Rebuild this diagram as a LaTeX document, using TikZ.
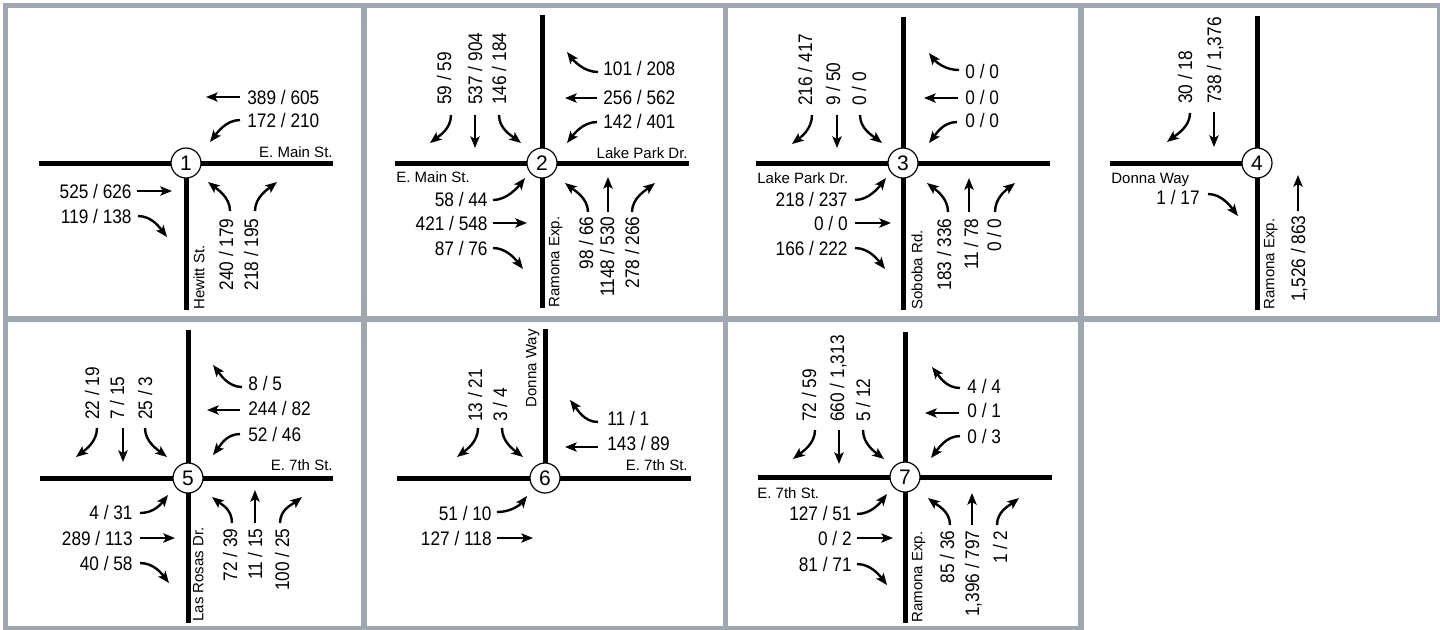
\documentclass[tikz,border=0pt]{standalone}
\usepackage{fontspec}
\setmainfont{Liberation Sans}
\newfontfamily\numfam{Liberation Sans}[FakeStretch=0.88]
\newcommand\mynumfont{\numfam\fontsize{9.8}{11}\selectfont}
\newcommand\mystreetfont{\fontsize{7.5}{9}\selectfont}
\newcommand\mycircfont{\fontsize{10.5}{12}\selectfont}
\usetikzlibrary{arrows.meta}
\definecolor{framegray}{RGB}{161,167,175}
\tikzset{
  road/.style={line width=2.5pt},
  mv/.style={line width=1.2pt, -{Stealth[length=5.8pt,width=4.6pt,inset=1.3pt]}},
  num/.style={font=\mynumfont, inner sep=0pt, text height=7pt, text depth=0pt},
  vnum/.style={num, rotate=90},
  street/.style={font=\mystreetfont, inner sep=0pt, text height=5.4pt, text depth=0pt},
  vstreet/.style={street, rotate=90},
  junction/.style={circle, draw, line width=0.6pt, fill=white, minimum size=15pt, inner sep=0pt, font=\mycircfont},
  frameline/.style={line width=2.6pt, draw=framegray},
}
\begin{document}
\begin{tikzpicture}[x=0.5pt,y=-0.5pt]
\useasboundingbox (0,0) rectangle (1440,629);
% frame
\draw[frameline] (5.5,3) -- (5.5,629);
\draw[frameline] (3,5.5) -- (1440,5.5);
\draw[frameline] (364,3) -- (364,629);
\draw[frameline] (725.5,3) -- (725.5,629);
\draw[frameline] (1081,3) -- (1081,629);
\draw[frameline] (1439.5,3) -- (1439.5,320);
\draw[frameline] (3,319) -- (1440,319);
\draw[frameline] (3,628.5) -- (1083.5,628.5);

% ---------- Panel 1 ----------
\begin{scope}[shift={(186,163)}]
\draw[road] (-147,0) -- (147,0);
\draw[road] (0,0) -- (0,147);
\node[junction] (j1) at (0,0) {1};
\node[street, anchor=east] (s1a) at (147,-11) {E. Main St.};
\node[vstreet, anchor=west] (s1b) at (13,147) {Hewitt St.};
\node[num, anchor=west] (n1et) at (61,-66) {389 / 605};
\draw[mv] (54,-66) -- (20,-66);
\node[num, anchor=west] (n1el) at (61,-43) {172 / 210};
\draw[mv] (54,-43) .. controls +(-14,0) and +(7,-9) .. (24,-21);
\node[num, anchor=east] (n1wt) at (-54,28) {525 / 626};
\draw[mv] (-49,28) -- (-14,28);
\node[num, anchor=east] (n1wr) at (-54,53) {119 / 138};
\draw[mv] (-48,53) .. controls +(14,0) and +(-7,-9) .. (-19,74);
\node[vnum, anchor=east] (n1sl) at (40,55) {240 / 179};
\draw[mv] (44,48) .. controls +(0,-14) and +(9,7) .. (22,19);
\node[vnum, anchor=east] (n1sr) at (65,55) {218 / 195};
\draw[mv] (69,48) .. controls +(0,-14) and +(-9,7) .. (91,19);
\end{scope}

% ---------- Panel 2 ----------
\begin{scope}[shift={(542,163)}]
\draw[road] (-147,0) -- (147,0);
\draw[road] (0,-148) -- (0,145);
\node[junction] (j2) at (0,0) {2};
\node[street, anchor=east] (s2a) at (146,-10) {Lake Park Dr.};
\node[street, anchor=west] (s2b) at (-146,14) {E. Main St.};
\node[vstreet, anchor=west] (s2c) at (12,145) {Ramona Exp.};
\node[vnum, anchor=west] (n2nl) at (-98,-58) {59 / 59};
\draw[mv] (-91,-48) .. controls +(0,14) and +(9,-7) .. (-112,-20);
\node[vnum, anchor=west] (n2nt) at (-67,-58) {537 / 904};
\draw[mv] (-67,-48) -- (-67,-15);
\node[vnum, anchor=west] (n2nr) at (-43,-58) {146 / 184};
\draw[mv] (-43,-48) .. controls +(0,14) and +(-9,-7) .. (-21,-20);
\node[num, anchor=west] (n2eu) at (61,-95) {101 / 208};
\draw[mv] (56,-91) .. controls +(-14,0) and +(7,9) .. (25,-111);
\node[num, anchor=west] (n2et) at (61,-66) {256 / 562};
\draw[mv] (55,-65) -- (23,-65);
\node[num, anchor=west] (n2el) at (61,-42) {142 / 401};
\draw[mv] (55,-41) .. controls +(-14,0) and +(7,-9) .. (25,-20);
\node[num, anchor=east] (n2wl) at (-54,36) {58 / 44};
\draw[mv] (-49,37) .. controls +(14,0) and +(-7,9) .. (-17,15);
\node[num, anchor=east] (n2wt) at (-54,60) {421 / 548};
\draw[mv] (-49,60) -- (-15,60);
\node[num, anchor=east] (n2wr) at (-54,85) {87 / 76};
\draw[mv] (-49,85) .. controls +(14,0) and +(-7,-9) .. (-19,106);
\node[vnum, anchor=east] (n2sl) at (44,53) {98 / 66};
\draw[mv] (46,49) .. controls +(0,-14) and +(9,7) .. (23,20);
\node[vnum, anchor=east] (n2st) at (65,53) {1148 / 530};
\draw[mv] (66,49) -- (66,14);
\node[vnum, anchor=east] (n2sr) at (90,53) {278 / 266};
\draw[mv] (90,49) .. controls +(0,-14) and +(-9,7) .. (113,20);
\end{scope}

% ---------- Panel 3 ----------
\begin{scope}[shift={(903,163)}]
\draw[road] (-147,0) -- (147,0);
\draw[road] (0,-146) -- (0,147);
\node[junction] (j3) at (0,0) {3};
\node[street, anchor=west] (s3a) at (-146,15) {Lake Park Dr.};
\node[vstreet, anchor=west] (s3b) at (14,147) {Soboba Rd.};
\node[vnum, anchor=west] (n3nl) at (-98,-57) {216 / 417};
\draw[mv] (-91,-48) .. controls +(0,14) and +(9,-7) .. (-111,-19);
\node[vnum, anchor=west] (n3nt) at (-70,-57) {9 / 50};
\draw[mv] (-66,-48) -- (-66,-15);
\node[vnum, anchor=west] (n3nr) at (-44,-57) {0 / 0};
\draw[mv] (-43,-48) .. controls +(0,14) and +(-9,-7) .. (-21,-20);
\node[num, anchor=west] (n3eu) at (62,-92) {0 / 0};
\draw[mv] (56,-93) .. controls +(-14,0) and +(7,9) .. (26,-110);
\node[num, anchor=west] (n3et) at (62,-66) {0 / 0};
\draw[mv] (55,-65) -- (21,-65);
\node[num, anchor=west] (n3el) at (62,-43) {0 / 0};
\draw[mv] (54,-41) .. controls +(-14,0) and +(7,-9) .. (26,-20);
\node[num, anchor=east] (n3wl) at (-55,36) {218 / 237};
\draw[mv] (-48,37) .. controls +(14,0) and +(-7,9) .. (-17,15);
\node[num, anchor=east] (n3wt) at (-55,60) {0 / 0};
\draw[mv] (-48,60) -- (-12,60);
\node[num, anchor=east] (n3wr) at (-55,85) {166 / 222};
\draw[mv] (-48,85) .. controls +(14,0) and +(-7,-9) .. (-18,106);
\node[vnum, anchor=east] (n3sl) at (41,55) {183 / 336};
\draw[mv] (45,49) .. controls +(0,-14) and +(9,7) .. (24,20);
\node[vnum, anchor=east] (n3st) at (68,55) {11 / 78};
\draw[mv] (66,49) -- (66,15);
\node[vnum, anchor=east] (n3sr) at (91,55) {0 / 0};
\draw[mv] (92,49) .. controls +(0,-14) and +(-9,7) .. (112,20);
\end{scope}

% ---------- Panel 4 ----------
\begin{scope}[shift={(1257,163)}]
\draw[road] (-147,0) -- (0,0);
\draw[road] (0,-147) -- (0,147);
\node[junction] (j4) at (0,0) {4};
\node[street, anchor=west] (s4a) at (-146,15) {Donna Way};
\node[vstreet, anchor=west] (s4b) at (12,147) {Ramona Exp.};
\node[vnum, anchor=west] (n4nl) at (-72,-59) {30 / 18};
\draw[mv] (-67,-50) .. controls +(0,14) and +(9,-7) .. (-90,-21);
\node[vnum, anchor=west] (n4nt) at (-43,-59) {738 / 1,376};
\draw[mv] (-43,-51) -- (-43,-16);
\node[num, anchor=east] (n4wr) at (-57,34) {1 / 17};
\draw[mv] (-49,31) .. controls +(14,0) and +(-7,-9) .. (-19,53);
\node[vnum, anchor=east] (n4st) at (41,52) {1,526 / 863};
\draw[mv] (41,48) -- (41,12);
\end{scope}

% ---------- Panel 5 ----------
\begin{scope}[shift={(188,478)}]
\draw[road] (-148,0) -- (145,0);
\draw[road] (0,-148) -- (0,145);
\node[junction] (j5) at (0,0) {5};
\node[street, anchor=east] (s5a) at (145,-13) {E. 7th St.};
\node[vstreet, anchor=west] (s5b) at (10,144) {Las Rosas Dr.};
\node[vnum, anchor=west] (n5nl) at (-96,-58) {22 / 19};
\draw[mv] (-91,-50) .. controls +(0,14) and +(9,-7) .. (-112,-21);
\node[vnum, anchor=west] (n5nt) at (-71,-58) {7 / 15};
\draw[mv] (-65,-50) -- (-65,-16);
\node[vnum, anchor=west] (n5nr) at (-43,-58) {25 / 3};
\draw[mv] (-43,-50) .. controls +(0,14) and +(-9,-7) .. (-21,-21);
\node[num, anchor=west] (n5eu) at (60,-95) {8 / 5};
\draw[mv] (54,-91) .. controls +(-14,0) and +(7,9) .. (25,-113);
\node[num, anchor=west] (n5et) at (60,-70) {244 / 82};
\draw[mv] (52,-68) -- (19,-68);
\node[num, anchor=west] (n5el) at (60,-44) {52 / 46};
\draw[mv] (52,-44) .. controls +(-14,0) and +(7,-9) .. (25,-23);
\node[num, anchor=east] (n5wl) at (-55,34) {4 / 31};
\draw[mv] (-48,35) .. controls +(14,0) and +(-7,9) .. (-20,17);
\node[num, anchor=east] (n5wt) at (-55,60) {289 / 113};
\draw[mv] (-48,60) -- (-13,60);
\node[num, anchor=east] (n5wr) at (-55,85) {40 / 58};
\draw[mv] (-48,85) .. controls +(14,0) and +(-7,-9) .. (-19,105);
\node[vnum, anchor=east] (n5sl) at (42,50) {72 / 39};
\draw[mv] (44,45) .. controls +(0,-14) and +(9,7) .. (24,19);
\node[vnum, anchor=east] (n5st) at (67,50) {11 / 15};
\draw[mv] (67,45) -- (67,12);
\node[vnum, anchor=east] (n5sr) at (94,50) {100 / 25};
\draw[mv] (92,45) .. controls +(0,-14) and +(-9,7) .. (114,19);
\end{scope}

% ---------- Panel 6 ----------
\begin{scope}[shift={(545,478)}]
\draw[road] (-148,0) -- (146,0);
\draw[road] (0,-149) -- (0,0);
\node[junction] (j6) at (0,0) {6};
\node[vstreet, anchor=east] (s6a) at (-14,-149) {Donna Way};
\node[street, anchor=east] (s6b) at (143,-13) {E. 7th St.};
\node[vnum, anchor=west] (n6nl) at (-70,-56) {13 / 21};
\draw[mv] (-67,-50) .. controls +(0,14) and +(9,-7) .. (-88,-21);
\node[vnum, anchor=west] (n6nr) at (-45,-56) {3 / 4};
\draw[mv] (-43,-50) .. controls +(0,14) and +(-9,-7) .. (-22,-21);
\node[num, anchor=west] (n6eu) at (62,-60) {11 / 1};
\draw[mv] (53,-56) .. controls +(-14,0) and +(7,9) .. (25,-78);
\node[num, anchor=west] (n6et) at (62,-35) {143 / 89};
\draw[mv] (53,-31) -- (20,-31);
\node[num, anchor=east] (n6wl) at (-53,35) {51 / 10};
\draw[mv] (-48,34) .. controls +(14,0) and +(-7,9) .. (-18,18);
\node[num, anchor=east] (n6wt) at (-53,60) {127 / 118};
\draw[mv] (-48,60) -- (-12,60);
\end{scope}

% ---------- Panel 7 ----------
\begin{scope}[shift={(905,477)}]
\draw[road] (-147,0) -- (147,0);
\draw[road] (0,-145) -- (0,146);
\node[junction] (j7) at (0,0) {7};
\node[street, anchor=west] (s7a) at (-148,16) {E. 7th St.};
\node[vstreet, anchor=west] (s7b) at (12,146) {Ramona Exp.};
\node[vnum, anchor=west] (n7nl) at (-96,-55) {72 / 59};
\draw[mv] (-90,-47) .. controls +(0,14) and +(9,-7) .. (-112,-18);
\node[vnum, anchor=west] (n7nt) at (-68,-55) {660 / 1,313};
\draw[mv] (-66,-47) -- (-66,-13);
\node[vnum, anchor=west] (n7nr) at (-42,-55) {5 / 12};
\draw[mv] (-42,-47) .. controls +(0,14) and +(-9,-7) .. (-21,-18);
\node[num, anchor=west] (n7eu) at (62,-91) {4 / 4};
\draw[mv] (55,-89) .. controls +(-14,0) and +(7,9) .. (27,-110);
\node[num, anchor=west] (n7et) at (62,-67) {0 / 1};
\draw[mv] (54,-64) -- (20,-64);
\node[num, anchor=west] (n7el) at (62,-41) {0 / 3};
\draw[mv] (55,-41) .. controls +(-14,0) and +(7,-9) .. (26,-19);
\node[num, anchor=east] (n7wl) at (-53,36) {127 / 51};
\draw[mv] (-48,37) .. controls +(14,0) and +(-7,9) .. (-18,17);
\node[num, anchor=east] (n7wt) at (-53,61) {0 / 2};
\draw[mv] (-48,61) -- (-12,61);
\node[num, anchor=east] (n7wr) at (-53,87) {81 / 71};
\draw[mv] (-48,87) .. controls +(14,0) and +(-7,-9) .. (-18,108);
\node[vnum, anchor=east] (n7sl) at (42,53) {85 / 36};
\draw[mv] (45,48) .. controls +(0,-14) and +(9,7) .. (23,21);
\node[vnum, anchor=east] (n7st) at (67,53) {1,396 / 797};
\draw[mv] (67,48) -- (67,16);
\node[vnum, anchor=east] (n7sr) at (95,53) {1 / 2};
\draw[mv] (92,48) .. controls +(0,-14) and +(-9,7) .. (114,21);
\end{scope}
\end{tikzpicture}
\end{document}
